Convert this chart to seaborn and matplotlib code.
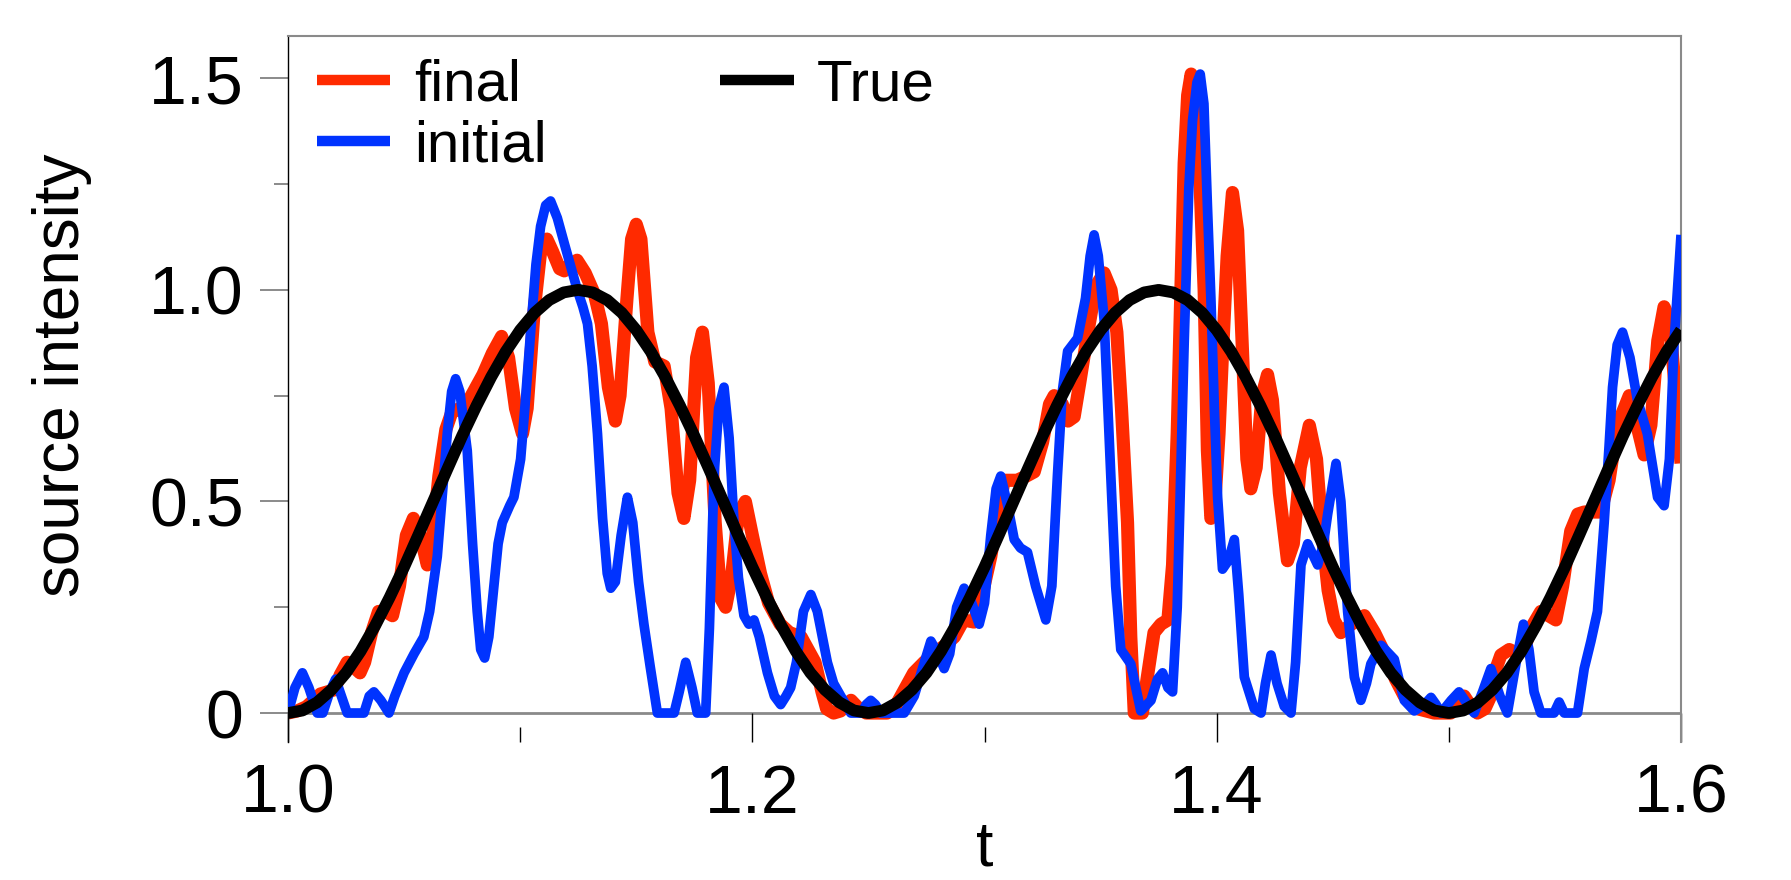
import matplotlib
matplotlib.use("Agg")
import matplotlib.pyplot as plt
import seaborn as sns
import pandas as pd
from matplotlib.ticker import FixedLocator

# ---------------- data ----------------
t_final = [1.000, 1.004, 1.008, 1.011, 1.014, 1.017, 1.020, 1.0225, 1.0255, 1.028,
           1.031, 1.033, 1.036, 1.039, 1.042, 1.045, 1.048, 1.051, 1.054, 1.057,
           1.060, 1.062, 1.065, 1.068, 1.0705, 1.074, 1.077, 1.080, 1.084, 1.088,
           1.092, 1.095, 1.098, 1.101, 1.103, 1.106, 1.109, 1.1115, 1.114, 1.117,
           1.119, 1.1215, 1.1245, 1.128, 1.132, 1.135, 1.138, 1.141, 1.143, 1.146,
           1.148, 1.150, 1.152, 1.155, 1.158, 1.162, 1.165, 1.168, 1.1705, 1.173,
           1.176, 1.1785, 1.181, 1.184, 1.1865, 1.1885, 1.191, 1.194, 1.197, 1.200,
           1.2035, 1.207, 1.212, 1.216, 1.221, 1.224, 1.227, 1.230, 1.232, 1.235,
           1.238, 1.2425, 1.246, 1.249, 1.258, 1.261, 1.265, 1.2695, 1.274, 1.278,
           1.283, 1.287, 1.291, 1.2955, 1.299, 1.3027, 1.306, 1.3085, 1.314, 1.318,
           1.3214, 1.325, 1.328, 1.330, 1.3335, 1.336, 1.3386, 1.341, 1.3445, 1.348,
           1.3515, 1.3545, 1.357, 1.359, 1.3616, 1.363, 1.3645, 1.368, 1.370, 1.373,
           1.376, 1.379, 1.381, 1.383, 1.3845, 1.386, 1.3875, 1.389, 1.391, 1.3925,
           1.3946, 1.396, 1.3975, 1.399, 1.401, 1.4025, 1.4045, 1.4068, 1.409, 1.4115,
           1.413, 1.4147, 1.417, 1.4195, 1.4219, 1.424, 1.427, 1.4305, 1.433, 1.436,
           1.4399, 1.443, 1.4455, 1.448, 1.4505, 1.4535, 1.458, 1.4636, 1.468, 1.4736,
           1.477, 1.4808, 1.4866, 1.4937, 1.5008, 1.504, 1.5066, 1.509, 1.5123, 1.5155,
           1.518, 1.520, 1.5224, 1.526, 1.530, 1.533, 1.5353, 1.5396, 1.543, 1.5461,
           1.549, 1.5525, 1.5555, 1.5583, 1.5654, 1.569, 1.5726, 1.5777, 1.581, 1.5841,
           1.587, 1.590, 1.5927, 1.595, 1.5985, 1.600]
v_final = [0.000, 0.005, 0.015, 0.03, 0.045, 0.05, 0.055, 0.09, 0.12, 0.11,
           0.095, 0.12, 0.19, 0.24, 0.24, 0.23, 0.30, 0.42, 0.46, 0.42,
           0.35, 0.40, 0.56, 0.67, 0.71, 0.72, 0.73, 0.76, 0.80, 0.85,
           0.89, 0.84, 0.72, 0.66, 0.72, 0.95, 1.10, 1.12, 1.09, 1.05,
           1.045, 1.06, 1.07, 1.04, 0.99, 0.92, 0.77, 0.69, 0.75, 0.98,
           1.12, 1.155, 1.12, 0.90, 0.83, 0.82, 0.72, 0.52, 0.46, 0.55,
           0.84, 0.90, 0.78, 0.45, 0.27, 0.25, 0.32, 0.47, 0.50, 0.42,
           0.33, 0.26, 0.21, 0.19, 0.18, 0.15, 0.12, 0.05, 0.01, 0.00,
           0.005, 0.03, 0.01, 0.00, 0.00, 0.01, 0.05, 0.095, 0.12, 0.14,
           0.16, 0.18, 0.22, 0.215, 0.28, 0.37, 0.48, 0.55, 0.55, 0.56,
           0.57, 0.64, 0.73, 0.75, 0.73, 0.69, 0.70, 0.78, 0.90, 1.01,
           1.04, 1.00, 0.90, 0.72, 0.45, 0.18, 0.00, 0.00, 0.08, 0.19,
           0.21, 0.22, 0.35, 0.66, 0.98, 1.30, 1.46, 1.51, 1.46, 1.30,
           1.00, 0.62, 0.46, 0.48, 0.66, 0.85, 1.08, 1.23, 1.14, 0.80,
           0.60, 0.53, 0.58, 0.75, 0.80, 0.74, 0.52, 0.36, 0.40, 0.58,
           0.68, 0.60, 0.42, 0.29, 0.22, 0.19, 0.21, 0.23, 0.19, 0.127,
           0.08, 0.04, 0.01, 0.00, 0.00, 0.03, 0.04, 0.02, 0.00, 0.01,
           0.04, 0.10, 0.137, 0.15, 0.14, 0.16, 0.20, 0.24, 0.23, 0.22,
           0.30, 0.43, 0.47, 0.475, 0.475, 0.55, 0.68, 0.75, 0.68, 0.61,
           0.68, 0.88, 0.96, 0.93, 0.70, 0.59]

t_initial = [1.000, 1.003, 1.0062, 1.009, 1.0126, 1.015, 1.018, 1.0205, 1.023, 1.0255,
             1.0327, 1.035, 1.037, 1.040, 1.0435, 1.046, 1.050, 1.0543, 1.0585, 1.061,
             1.0643, 1.0665, 1.0686, 1.0705, 1.0722, 1.074, 1.0772, 1.0795, 1.0815, 1.083,
             1.0847, 1.0865, 1.0887, 1.0905, 1.0923, 1.0955, 1.0973, 1.1002, 1.102, 1.1045,
             1.1068, 1.1088, 1.1110, 1.1131, 1.116, 1.119, 1.1246, 1.127, 1.129, 1.131,
             1.1333, 1.1355, 1.1375, 1.139, 1.141, 1.1435, 1.1462, 1.1485, 1.151, 1.1533,
             1.156, 1.1591, 1.1663, 1.1685, 1.1713, 1.174, 1.1763, 1.1799, 1.1815, 1.1835,
             1.1855, 1.1878, 1.190, 1.1921, 1.194, 1.1964, 1.1985, 1.2007, 1.203, 1.2065,
             1.2095, 1.2122, 1.2145, 1.2165, 1.219, 1.222, 1.2252, 1.228, 1.2323, 1.235,
             1.2381, 1.2424, 1.247, 1.249, 1.251, 1.253, 1.2553, 1.2654, 1.2697, 1.273,
             1.2769, 1.280, 1.2826, 1.285, 1.288, 1.2912, 1.2945, 1.2977, 1.300, 1.3027,
             1.305, 1.3070, 1.310, 1.3128, 1.3155, 1.3185, 1.322, 1.3264, 1.329, 1.3314,
             1.3335, 1.3358, 1.3401, 1.3435, 1.3455, 1.3472, 1.349, 1.3515, 1.3544, 1.3565,
             1.3587, 1.3630, 1.3673, 1.3717, 1.3745, 1.3767, 1.379, 1.3810, 1.383, 1.3860,
             1.388, 1.3896, 1.3915, 1.3929, 1.3945, 1.396, 1.3975, 1.399, 1.4004, 1.4025,
             1.405, 1.4076, 1.4095, 1.4119, 1.4162, 1.4191, 1.421, 1.4234, 1.426, 1.4291,
             1.4320, 1.434, 1.4363, 1.4392, 1.4435, 1.446, 1.4478, 1.4514, 1.4535, 1.4564,
             1.4593, 1.4621, 1.4645, 1.4664, 1.4708, 1.4765, 1.4785, 1.4808, 1.4851, 1.4895,
             1.4923, 1.4945, 1.4966, 1.501, 1.5044, 1.5075, 1.5109, 1.5145, 1.5181, 1.522,
             1.5252, 1.529, 1.5321, 1.5345, 1.5367, 1.5396, 1.5453, 1.5475, 1.5497, 1.5554,
             1.5583, 1.5612, 1.5640, 1.5669, 1.5690, 1.5705, 1.5725, 1.5748, 1.578, 1.5812,
             1.5855, 1.5899, 1.5927, 1.595, 1.5970, 1.6000]
v_initial = [0.00, 0.06, 0.095, 0.06, 0.00, 0.00, 0.05, 0.08, 0.04, 0.00,
             0.00, 0.04, 0.05, 0.03, 0.00, 0.04, 0.095, 0.14, 0.18, 0.24,
             0.37, 0.52, 0.66, 0.76, 0.79, 0.76, 0.62, 0.40, 0.24, 0.15,
             0.13, 0.18, 0.30, 0.40, 0.45, 0.49, 0.51, 0.60, 0.72, 0.90,
             1.06, 1.15, 1.20, 1.21, 1.17, 1.11, 1.00, 0.96, 0.92, 0.82,
             0.66, 0.46, 0.33, 0.295, 0.31, 0.42, 0.51, 0.45, 0.31, 0.21,
             0.11, 0.00, 0.00, 0.05, 0.12, 0.06, 0.00, 0.00, 0.20, 0.56,
             0.72, 0.77, 0.65, 0.45, 0.32, 0.23, 0.21, 0.22, 0.18, 0.095,
             0.04, 0.02, 0.04, 0.06, 0.12, 0.24, 0.28, 0.24, 0.12, 0.07,
             0.04, 0.00, 0.00, 0.02, 0.03, 0.02, 0.00, 0.00, 0.04, 0.10,
             0.17, 0.14, 0.105, 0.14, 0.25, 0.295, 0.26, 0.21, 0.26, 0.42,
             0.53, 0.56, 0.49, 0.41, 0.39, 0.38, 0.30, 0.22, 0.30, 0.56,
             0.76, 0.855, 0.886, 0.98, 1.08, 1.13, 1.08, 0.93, 0.56, 0.30,
             0.15, 0.116, 0.005, 0.03, 0.08, 0.095, 0.06, 0.05, 0.25, 0.875,
             1.24, 1.40, 1.49, 1.51, 1.44, 1.20, 0.98, 0.72, 0.51, 0.34,
             0.36, 0.41, 0.28, 0.085, 0.01, 0.00, 0.07, 0.137, 0.07, 0.016,
             0.00, 0.12, 0.35, 0.40, 0.35, 0.40, 0.47, 0.59, 0.50, 0.24,
             0.085, 0.03, 0.07, 0.116, 0.16, 0.127, 0.08, 0.03, 0.005, 0.02,
             0.037, 0.02, 0.00, 0.03, 0.05, 0.025, 0.00, 0.05, 0.105, 0.04,
             0.00, 0.12, 0.21, 0.15, 0.05, 0.00, 0.00, 0.026, 0.00, 0.00,
             0.105, 0.17, 0.24, 0.45, 0.63, 0.77, 0.87, 0.90, 0.84, 0.74,
             0.66, 0.51, 0.49, 0.60, 0.875, 1.13]

t_true = [1.00000, 1.00625, 1.01250, 1.01875, 1.02500, 1.03125, 1.03750, 1.04375, 1.05000, 1.05625,
          1.06250, 1.06875, 1.07500, 1.08125, 1.08750, 1.09375, 1.10000, 1.10625, 1.11250, 1.11875,
          1.12500, 1.13125, 1.13750, 1.14375, 1.15000, 1.15625, 1.16250, 1.16875, 1.17500, 1.18125,
          1.18750, 1.19375, 1.20000, 1.20625, 1.21250, 1.21875, 1.22500, 1.23125, 1.23750, 1.24375,
          1.25000, 1.25625, 1.26250, 1.26875, 1.27500, 1.28125, 1.28750, 1.29375, 1.30000, 1.30625,
          1.31250, 1.31875, 1.32500, 1.33125, 1.33750, 1.34375, 1.35000, 1.35625, 1.36250, 1.36875,
          1.37500, 1.38125, 1.38750, 1.39375, 1.40000, 1.40625, 1.41250, 1.41875, 1.42500, 1.43125,
          1.43750, 1.44375, 1.45000, 1.45625, 1.46250, 1.46875, 1.47500, 1.48125, 1.48750, 1.49375,
          1.50000, 1.50625, 1.51250, 1.51875, 1.52500, 1.53125, 1.53750, 1.54375, 1.55000, 1.55625,
          1.56250, 1.56875, 1.57500, 1.58125, 1.58750, 1.59375, 1.60000]
v_true = [0.000, 0.006, 0.025, 0.055, 0.095, 0.146, 0.206, 0.273, 0.345, 0.422,
          0.500, 0.578, 0.655, 0.727, 0.794, 0.854, 0.905, 0.946, 0.976, 0.994,
          1.000, 0.994, 0.976, 0.946, 0.905, 0.854, 0.794, 0.727, 0.655, 0.578,
          0.500, 0.422, 0.345, 0.273, 0.206, 0.146, 0.095, 0.055, 0.025, 0.006,
          0.000, 0.006, 0.025, 0.055, 0.095, 0.146, 0.206, 0.273, 0.345, 0.422,
          0.500, 0.578, 0.655, 0.727, 0.794, 0.854, 0.905, 0.946, 0.976, 0.994,
          1.000, 0.994, 0.976, 0.946, 0.905, 0.854, 0.794, 0.727, 0.655, 0.578,
          0.500, 0.422, 0.345, 0.273, 0.206, 0.146, 0.095, 0.055, 0.025, 0.006,
          0.000, 0.006, 0.025, 0.055, 0.095, 0.146, 0.206, 0.273, 0.345, 0.422,
          0.500, 0.578, 0.655, 0.727, 0.794, 0.854, 0.905]

x_major = [1.0, 1.2, 1.4, 1.6]
x_major_labels = ["1.0", "1.2", "1.4", "1.6"]
x_minor = [1.1, 1.3, 1.5]
y_major = [0, 0.5, 1.0, 1.5]
y_major_labels = ["0", "0.5", "1.0", "1.5"]
y_minor = [0.25, 0.75, 1.25]

# ---------------- styling ----------------
sns.set_theme(style="white")
plt.rcParams['font.family'] = ['Liberation Sans', 'DejaVu Sans']
plt.rcParams['text.color'] = 'black'
plt.rcParams['axes.labelcolor'] = 'black'
plt.rcParams['xtick.color'] = 'black'
plt.rcParams['ytick.color'] = 'black'

RED = "#ff2a00"
BLUE = "#0033ff"
GRAY = "#8a8a8a"

fig = plt.figure(figsize=(17.91, 8.80), dpi=100)
ax = fig.add_axes([0.1608, 0.1568, 0.7778, 0.8023])

ax.axhline(0, color=GRAY, lw=2.0, zorder=0.5)

df_f = pd.DataFrame({"t": t_final, "v": v_final})
df_i = pd.DataFrame({"t": t_initial, "v": v_initial})
df_t = pd.DataFrame({"t": t_true, "v": v_true})

sns.lineplot(data=df_f, x="t", y="v", ax=ax, color=RED, linewidth=9.5, label="final",
             solid_joinstyle="round", solid_capstyle="butt", zorder=2)
sns.lineplot(data=df_i, x="t", y="v", ax=ax, color=BLUE, linewidth=7.0, label="initial",
             solid_joinstyle="round", solid_capstyle="butt", zorder=3)
sns.lineplot(data=df_t, x="t", y="v", ax=ax, color="black", linewidth=8.5, label="True",
             solid_joinstyle="round", solid_capstyle="butt", zorder=4)

ax.set_xlim(1.0, 1.6)
ax.set_ylim(-0.0685, 1.6)

ax.xaxis.set_major_locator(FixedLocator(x_major))
ax.set_xticklabels(x_major_labels)
ax.xaxis.set_minor_locator(FixedLocator(x_minor))
ax.yaxis.set_major_locator(FixedLocator(y_major))
ax.set_yticklabels(y_major_labels)
ax.yaxis.set_minor_locator(FixedLocator(y_minor))

ax.tick_params(axis="x", which="major", direction="in", length=21, width=1.0,
               color="black", labelcolor="black", labelsize=49, pad=15, bottom=True, top=False)
ax.tick_params(axis="x", which="minor", direction="in", length=10.8, width=1.0,
               color="black", bottom=True, top=False)
ax.tick_params(axis="y", which="major", direction="out", length=20, width=1.4,
               color=GRAY, labelcolor="black", labelsize=49, pad=12, left=True, right=False)
ax.tick_params(axis="y", which="minor", direction="out", length=10, width=1.4,
               color=GRAY, left=True, right=False)

ax.spines["bottom"].set_visible(False)
ax.spines["left"].set_color("black")
ax.spines["left"].set_linewidth(1.0)
for s in ("top", "right"):
    ax.spines[s].set_color(GRAY)
    ax.spines[s].set_linewidth(1.5)

ax.set_xlabel("t", fontsize=45, labelpad=-5, color="black")
ax.set_ylabel("source intensity", fontsize=46, color="black")
ax.yaxis.set_label_coords(-0.1407, 0.52)

leg = ax.legend(loc="upper left", bbox_to_anchor=(0.0208, 0.968), ncol=2,
                frameon=False, fontsize=42, handlelength=1.26, handletextpad=0.4,
                columnspacing=2.98, labelspacing=0.12, borderpad=0, borderaxespad=0)
for line in leg.get_lines():
    line.set_linewidth(7.5)
    line.set_solid_capstyle("butt")
for txt in leg.get_texts():
    txt.set_color("black")

fig.savefig("out.png", dpi=100)
